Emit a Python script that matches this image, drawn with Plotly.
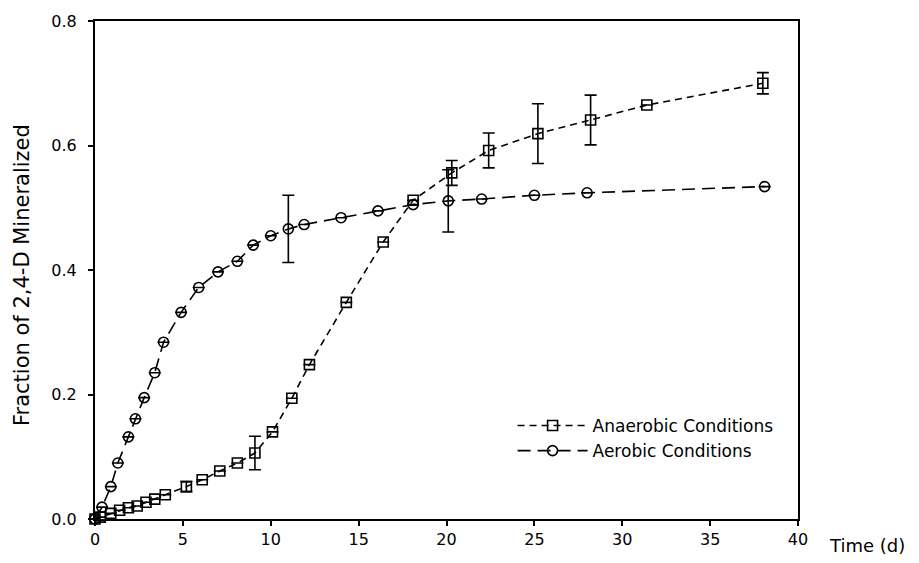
import plotly.graph_objects as go

# Aerobic conditions (circles)
aer_t = [0.0, 0.4, 0.9, 1.3, 1.9, 2.3, 2.8, 3.4, 3.9, 4.9, 5.9, 7.0, 8.1, 9.0, 10.0, 11.0, 11.9, 14.0, 16.1, 18.1, 20.1, 22.0, 25.0, 28.0, 38.1]
aer_y = [0.0, 0.019, 0.052, 0.09, 0.132, 0.161, 0.195, 0.235, 0.284, 0.332, 0.372, 0.397, 0.414, 0.44, 0.455, 0.466, 0.473, 0.484, 0.495, 0.505, 0.511, 0.514, 0.52, 0.524, 0.534]
aer_err = [0, 0, 0, 0, 0, 0, 0, 0, 0, 0, 0, 0, 0, 0, 0, 0.054, 0, 0, 0, 0, 0.05, 0, 0, 0, 0]

# Anaerobic conditions (squares)
ana_t = [0.0, 0.3, 0.9, 1.4, 1.9, 2.4, 2.9, 3.4, 4.0, 5.2, 6.1, 7.1, 8.1, 9.1, 10.1, 11.2, 12.2, 14.3, 16.4, 18.1, 20.3, 22.4, 25.2, 28.2, 31.4, 38.0]
ana_y = [0.0, 0.003, 0.009, 0.014, 0.018, 0.021, 0.027, 0.032, 0.039, 0.052, 0.063, 0.077, 0.09, 0.106, 0.14, 0.194, 0.248, 0.348, 0.445, 0.512, 0.556, 0.592, 0.619, 0.641, 0.665, 0.70]
ana_err = [0, 0, 0, 0, 0, 0, 0, 0, 0, 0.008, 0, 0, 0, 0.027, 0, 0, 0, 0, 0, 0, 0.02, 0.028, 0.048, 0.04, 0, 0.017]

x_ticks = [0, 5, 10, 15, 20, 25, 30, 35, 40]
y_ticks = [0.0, 0.2, 0.4, 0.6, 0.8]

font_family = "DejaVu Sans, Liberation Sans, Arial, sans-serif"

fig = go.Figure()
fig.add_trace(go.Scatter(
    x=ana_t, y=ana_y, name="Anaerobic Conditions", legendgroup="ana",
    mode="lines+markers",
    line=dict(color="black", width=1.6, dash="7px,5px"),
    marker=dict(symbol="square-open", size=10, color="black", line=dict(width=1.6)),
    error_y=dict(type="data", array=ana_err, visible=True, color="black", thickness=1.6, width=6),
    cliponaxis=False,
))
fig.add_trace(go.Scatter(
    x=aer_t, y=aer_y, name="Aerobic Conditions", legendgroup="aer",
    mode="lines+markers",
    line=dict(color="black", width=1.6, dash="13px,7px"),
    marker=dict(symbol="circle-open", size=10, color="black", line=dict(width=1.6)),
    error_y=dict(type="data", array=aer_err, visible=True, color="black", thickness=1.6, width=6),
    cliponaxis=False,
))

fig.update_layout(
    width=911, height=555,
    margin=dict(l=87, r=121, t=13, b=44, autoexpand=False),
    paper_bgcolor="white", plot_bgcolor="white",
    font=dict(family=font_family, size=14, color="black"),
    showlegend=True,
    legend=dict(x=0.594, y=0.223, xanchor="left", yanchor="top",
                bgcolor="rgba(0,0,0,0)", itemwidth=70,
                font=dict(size=17), tracegroupgap=0),
    xaxis=dict(range=[0, 40], tickvals=x_ticks, ticktext=[str(v) for v in x_ticks],
               showline=True, linecolor="black", linewidth=2, mirror=True,
               ticks="outside", ticklen=5, tickwidth=1.5, tickcolor="black",
               showgrid=False, zeroline=False, tickfont=dict(size=16)),
    yaxis=dict(range=[0, 0.8], tickvals=y_ticks, ticktext=[f"{v:.1f}" for v in y_ticks],
               showline=True, linecolor="black", linewidth=2, mirror=True,
               ticks="outside", ticklen=5, tickwidth=1.5, tickcolor="black",
               ticklabelstandoff=8,
               showgrid=False, zeroline=False, tickfont=dict(size=16)),
    annotations=[
        dict(text="Time (d)", xref="paper", yref="paper", x=1.0, y=0.0,
             xanchor="left", yanchor="middle", xshift=29, yshift=-26, showarrow=False,
             font=dict(size=18)),
        dict(text="Fraction of 2,4-D Mineralized", xref="paper", yref="paper", x=0.0, y=0.5,
             xanchor="center", yanchor="middle", xshift=-73, yshift=-5, textangle=-90, showarrow=False,
             font=dict(size=21)),
    ],
)

fig.write_html("out.html")
